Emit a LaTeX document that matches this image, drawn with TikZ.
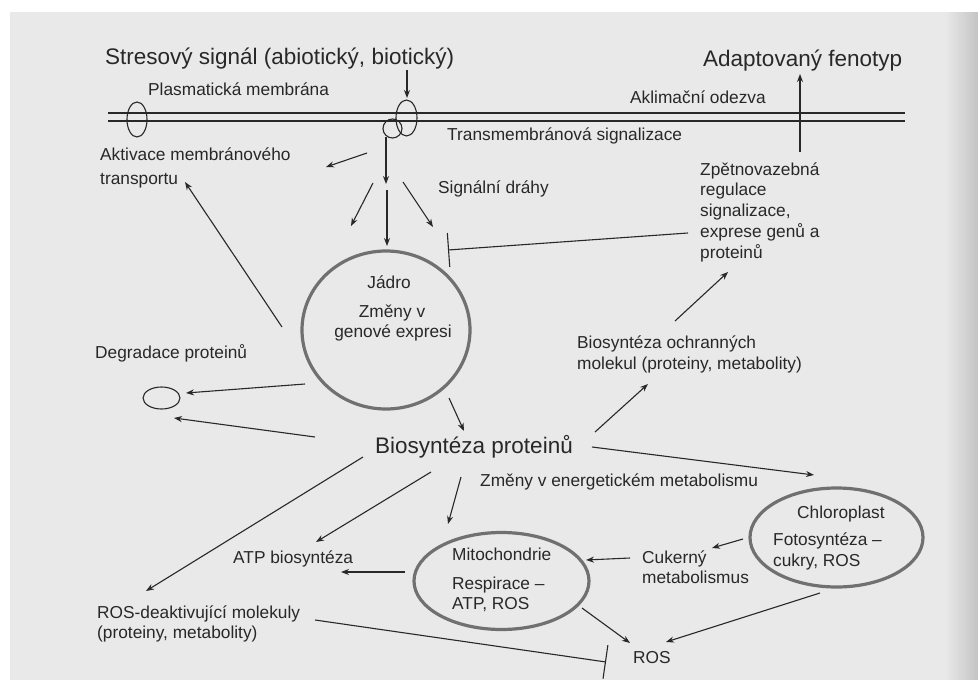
\documentclass[tikz,border=0pt]{standalone}
\usepackage{fontspec}
\setmainfont{Liberation Sans}
\usetikzlibrary{arrows.meta,shapes.geometric}
\definecolor{page}{RGB}{233,233,233}
\definecolor{pagedark}{RGB}{196,196,196}
\definecolor{ink}{RGB}{40,40,40}
\definecolor{ring}{RGB}{112,112,112}
\begin{document}
\begin{tikzpicture}[x=1pt,y=-1pt,
  sm/.style={font=\fontsize{17.3}{20.75}\selectfont, text=ink, inner sep=0pt, anchor=base west},
  smc/.style={font=\fontsize{17.3}{20.75}\selectfont, text=ink, inner sep=0pt, anchor=base},
  lg/.style={font=\fontsize{22.5}{27}\selectfont, text=ink, inner sep=0pt, anchor=base west},
  arr/.style={draw=ink, line width=1.1pt, -{Stealth[length=8pt,width=6pt]}},
  inh/.style={draw=ink, line width=1.1pt, -{Bar[width=34pt,line width=1.1pt]}},
  organ/.style={ellipse, draw=ring, line width=3.2pt, inner sep=0pt},
  memb/.style={ellipse, draw=ink, line width=1.1pt, inner sep=0pt},
  mline/.style={draw=ink, line width=1.1pt}]

\useasboundingbox (0,0) rectangle (978,680);
\fill[white] (0,0) rectangle (978,680);
\fill[page] (10,12) rectangle (978,680);
\shade[left color=page, right color=pagedark] (945,12) rectangle (978,680);

% ---- membrane ----
\coordinate (mL1) at (108,113); \coordinate (mR1) at (905,113);
\coordinate (mL2) at (108,121); \coordinate (mR2) at (905,121);
\draw[mline] (mL1) -- (mR1);
\draw[mline] (mL2) -- (mR2);
\node[memb, minimum width=20pt, minimum height=35pt] (chanL) at (137,119.5) {};
\node[memb, minimum width=21pt, minimum height=36pt] (recep) at (406.5,118) {};
\node[memb, minimum width=19pt, minimum height=19pt] (small) at (392.5,128.5) {};

% ---- texts ----
\node[lg] (stres) at (105,64) {Stresový signál (abiotický, biotický)};
\node[lg] (adapt) at (703,66) {Adaptovaný fenotyp};
\node[sm] (plasma) at (148,95) {Plasmatická membrána};
\node[sm] (aklim) at (630,103) {Aklimační odezva};
\node[sm] (transm) at (447,140) {Transmembránová signalizace};
\node[sm] (aktiv1) at (100,160) {Aktivace membránového};
\node[sm] (aktiv2) at (100,184) {transportu};
\node[sm] (signal) at (438,193) {Signální dráhy};
\node[sm] (zp1) at (700,175) {Zpětnovazebná};
\node[sm] (zp2) at (700,195.75) {regulace};
\node[sm] (zp3) at (700,216.5) {signalizace,};
\node[sm] (zp4) at (700,237.25) {exprese genů a};
\node[sm] (zp5) at (700,258) {proteinů};
\node[sm] (ochr1) at (577,348) {Biosyntéza ochranných};
\node[sm] (ochr2) at (577,369) {molekul (proteiny, metabolity)};
\node[sm] (degr) at (95,358) {Degradace proteinů};
\node[lg] (biop) at (375,453) {Biosyntéza proteinů};
\node[sm] (energ) at (480,486) {Změny v energetickém metabolismu};
\node[sm] (atp) at (233,563) {ATP biosyntéza};
\node[sm] (rosd1) at (97,618) {ROS-deaktivující molekuly};
\node[sm] (rosd2) at (97,638) {(proteiny, metabolity)};
\node[sm] (cuk1) at (642,563) {Cukerný};
\node[sm] (cuk2) at (642,583) {metabolismus};
\node[sm] (ros) at (633,663) {ROS};

% ---- nucleus ----
\node[organ, minimum width=168pt, minimum height=158pt] (nuc) at (386,330) {};
\node[smc] (jadro) at (389,288) {Jádro};
\node[smc] (zmeny1) at (392,317) {Změny v};
\node[smc] (zmeny2) at (393,337) {genové expresi};

% ---- mitochondrion ----
\node[organ, minimum width=175pt, minimum height=97pt] (mito) at (501.5,581) {};
\node[sm] (mit1) at (452,560) {Mitochondrie};
\node[sm] (mit2) at (452,589) {Respirace –};
\node[sm] (mit3) at (452,609) {ATP, ROS};

% ---- chloroplast ----
\node[organ, minimum width=173pt, minimum height=99pt] (chl) at (836.5,537.5) {};
\node[sm] (chl1) at (797,518) {Chloroplast};
\node[sm] (chl2) at (773,545) {Fotosyntéza –};
\node[sm] (chl3) at (773,566) {cukry, ROS};

% ---- degradation ring ----
\node[memb, minimum width=37pt, minimum height=22pt] (deg) at (161.5,398) {};

% ---- connector end points ----
\coordinate (a1s) at (407,70);  \coordinate (a1e) at (407,98);
\coordinate (a2s) at (386,137); \coordinate (a2e) at (386,184);
\coordinate (a3s) at (367,153); \coordinate (a3e) at (326,167);
\coordinate (a4s) at (373,183); \coordinate (a4e) at (351,226);
\coordinate (a5s) at (387,190); \coordinate (a5e) at (387,246);
\coordinate (a6s) at (403,182); \coordinate (a6e) at (433,227);
\coordinate (a7s) at (282,327); \coordinate (a7e) at (185,182);
\coordinate (i1s) at (688,233); \coordinate (i1e) at (448,250);
\coordinate (a8s) at (800,152); \coordinate (a8e) at (800,74);
\coordinate (a9s) at (675,321); \coordinate (a9e) at (728,272);
\coordinate (a10s) at (595,432); \coordinate (a10e) at (648,384);
\coordinate (a11s) at (305,384); \coordinate (a11e) at (186,393);
\coordinate (a12s) at (315,437); \coordinate (a12e) at (174,418);
\coordinate (a13s) at (449,398); \coordinate (a13e) at (464,431);
\coordinate (a14s) at (592,447); \coordinate (a14e) at (814,475);
\coordinate (a15s) at (461,477); \coordinate (a15e) at (448,524);
\coordinate (a16s) at (431,472); \coordinate (a16e) at (316,542);
\coordinate (a17s) at (363,457); \coordinate (a17e) at (146,591);
\coordinate (a18s) at (405,572); \coordinate (a18e) at (341,572);
\coordinate (a19s) at (743,539); \coordinate (a19e) at (712,548);
\coordinate (a20s) at (630,558); \coordinate (a20e) at (586,560);
\coordinate (a21s) at (582,608); \coordinate (a21e) at (630,643);
\coordinate (a22s) at (820,593); \coordinate (a22e) at (666,642);
\coordinate (i2s) at (315,620); \coordinate (i2e) at (606,662);

% ---- connectors ----
\draw[arr] (a1s) -- (a1e);
\draw[arr] (a2s) -- (a2e);
\draw[arr] (a3s) -- (a3e);
\draw[arr] (a4s) -- (a4e);
\draw[arr] (a5s) -- (a5e);
\draw[arr] (a6s) -- (a6e);
\draw[arr] (a7s) -- (a7e);
\draw[inh] (i1s) -- (i1e);
\draw[arr] (a8s) -- (a8e);
\draw[arr] (a9s) -- (a9e);
\draw[arr] (a10s) -- (a10e);
\draw[arr] (a11s) -- (a11e);
\draw[arr] (a12s) -- (a12e);
\draw[arr] (a13s) -- (a13e);
\draw[arr] (a14s) -- (a14e);
\draw[arr] (a15s) -- (a15e);
\draw[arr] (a16s) -- (a16e);
\draw[arr] (a17s) -- (a17e);
\draw[arr] (a18s) -- (a18e);
\draw[arr] (a19s) -- (a19e);
\draw[arr] (a20s) -- (a20e);
\draw[arr] (a21s) -- (a21e);
\draw[arr] (a22s) -- (a22e);
\draw[inh] (i2s) -- (i2e);
\end{tikzpicture}
\end{document}
